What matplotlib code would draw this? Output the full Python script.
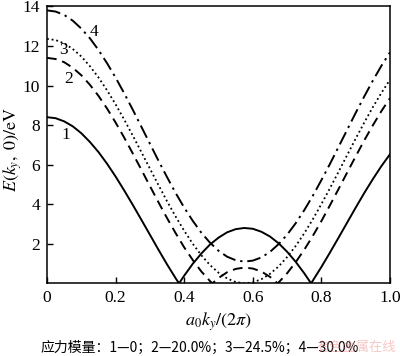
import matplotlib
matplotlib.use("Agg")
import matplotlib.pyplot as plt

plt.rcParams["font.family"] = "serif"
plt.rcParams["font.serif"] = ["Liberation Serif", "DejaVu Serif"]
plt.rcParams["mathtext.fontset"] = "stix"

# a0*ky/(2pi)
x = [0, 0.025, 0.05, 0.075, 0.1, 0.125, 0.15, 0.175, 0.2, 0.225, 0.25, 0.275,
     0.3, 0.325, 0.35, 0.375, 0.4, 0.425, 0.45, 0.475, 0.5, 0.525, 0.55, 0.575,
     0.6, 0.625, 0.65, 0.675, 0.7, 0.725, 0.75, 0.775, 0.8, 0.825, 0.85, 0.875,
     0.9, 0.925, 0.95, 0.975, 1.0]

# curve 1 (0 strain) -- zeros at 0.385 and 0.770 added separately
e1 = [8.40, 8.35, 8.19, 7.94, 7.59, 7.15, 6.64, 6.05, 5.40, 4.70, 3.97, 3.22,
      2.46, 1.70, 0.96, 0.26, 0.39, 0.99, 1.51, 1.96, 2.31, 2.58, 2.74, 2.80,
      2.76, 2.61, 2.37, 2.03, 1.60, 1.09, 0.51, 0.14, 0.83, 1.56, 2.31, 3.07,
      3.83, 4.57, 5.27, 5.93, 6.53]
x1_zero = [0.385, 0.770]

# curve 2 (20.0%)
e2 = [11.40, 11.34, 11.18, 10.90, 10.52, 10.04, 9.48, 8.84, 8.13, 7.37, 6.57, 5.75,
      4.92, 4.10, 3.30, 2.54, 1.82, 1.18, 0.60, 0.12, 0.27, 0.56, 0.73, 0.80,
      0.75, 0.60, 0.33, 0.04, 0.51, 1.07, 1.70, 2.40, 3.15, 3.95, 4.77, 5.60,
      6.42, 7.23, 7.99, 8.71, 9.36]
x2_zero = [0.482, 0.6725]

# curve 3 (24.5%)
e3 = [12.36, 12.30, 12.13, 11.85, 11.47, 10.98, 10.41, 9.76, 9.05, 8.28, 7.47, 6.64,
      5.80, 4.97, 4.15, 3.38, 2.66, 2.00, 1.42, 0.93, 0.54, 0.25, 0.07, 0.00,
      0.05, 0.21, 0.48, 0.85, 1.33, 1.89, 2.53, 3.24, 4.01, 4.81, 5.64, 6.48,
      7.32, 8.13, 8.91, 9.63, 10.30]

# curve 4 (30.0%)
e4 = [13.80, 13.74, 13.57, 13.28, 12.88, 12.39, 11.80, 11.13, 10.40, 9.61, 8.78, 7.92,
      7.06, 6.20, 5.37, 4.57, 3.83, 3.16, 2.56, 2.06, 1.65, 1.35, 1.17, 1.10,
      1.15, 1.31, 1.59, 1.98, 2.46, 3.04, 3.70, 4.43, 5.22, 6.04, 6.90, 7.76,
      8.62, 9.45, 10.25, 11.00, 11.68]


def with_zeros(xs, ys, zeros):
    pts = list(zip(xs, ys)) + [(z, 0.0) for z in zeros]
    pts.sort()
    return [p[0] for p in pts], [p[1] for p in pts]


fig = plt.figure(figsize=(4.0, 3.56), dpi=100)
ax = fig.add_axes([0.1175, 0.204, 0.8575, 0.778])

xa, ya = with_zeros(x, e1, x1_zero)
ax.plot(xa, ya, color="black", lw=1.4, ls="-")
xa, ya = with_zeros(x, e2, x2_zero)
ax.plot(xa, ya, color="black", lw=1.4, ls=(0, (5, 3)))
ax.plot(x, e3, color="black", lw=1.3, ls=(0, (1, 1.6)))
ax.plot(x, e4, color="black", lw=1.4, ls=(0, (7, 2.5, 1.2, 2.5)))

ax.text(0.138, 12.7, "4", fontsize=12.5, ha="center", va="center")
ax.text(0.047, 11.8, "3", fontsize=12.5, ha="center", va="center")
ax.text(0.062, 10.35, "2", fontsize=12.5, ha="center", va="center")
ax.text(0.055, 7.5, "1", fontsize=12.5, ha="center", va="center")

ax.set_xlim(0, 1.0)
ax.set_ylim(0, 14)
ax.set_xticks([0, 0.2, 0.4, 0.6, 0.8, 1.0])
ax.set_xticklabels(["0", "0.2", "0.4", "0.6", "0.8", "1.0"])
ax.set_yticks([2, 4, 6, 8, 10, 12, 14])
ax.tick_params(direction="in", length=4, width=1, labelsize=12.5, pad=5)
for s in ax.spines.values():
    s.set_linewidth(1.1)

fig.text(0.545, 0.097, r"$a_0k_y/(2\pi)$", fontsize=13, ha="center", va="center")
fig.text(0.032, 0.58, r"$E(k_y,\ 0)/\mathrm{eV}$", fontsize=13, rotation=90,
         ha="center", va="center")
fig.text(0.5, 0.024, "应力模量：1—0；2—20.0%；3—24.5%；4—30.0%", fontsize=10,
         ha="center", va="center", family=["Noto Sans CJK SC", "DejaVu Sans"])
fig.text(0.89, 0.024, "有色金属在线", fontsize=9.5, ha="center", va="center",
         color="#f08080", alpha=0.45, family=["Noto Sans CJK SC", "DejaVu Sans"])

fig.savefig("out.png", dpi=100)
